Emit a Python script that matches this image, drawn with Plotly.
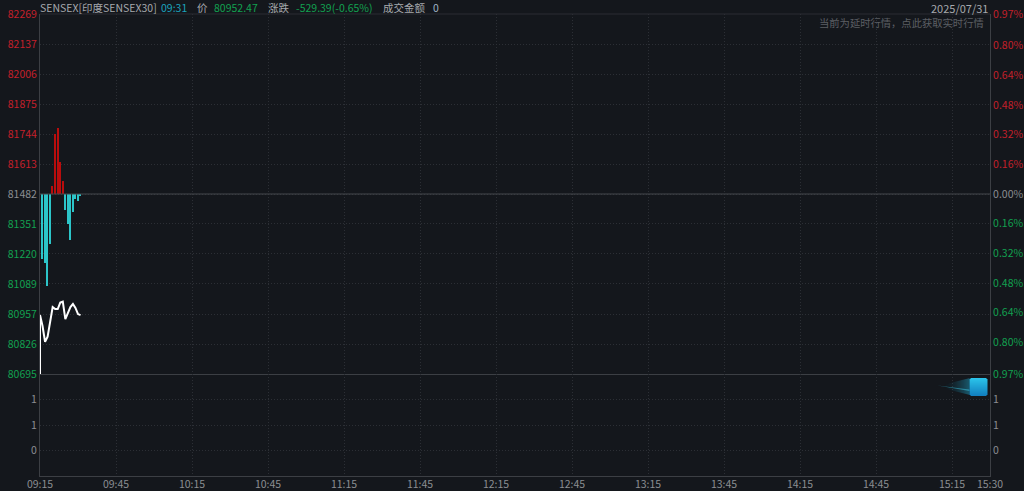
import plotly.graph_objects as go

# ---- data ----
prev_close = 81482
minute_labels = ["09:15","09:45","10:15","10:45","11:15","11:45","12:15","12:45","13:15","13:45","14:15","14:45","15:15","15:30"]
minute_ticks = [0,30,60,90,120,150,180,210,240,270,300,330,360,375]
price_minutes = [0,0,1,2,3,4,5,6,7,8,9,10,11,12,13,14,15,16]
price_values = [80695,80953,80905,80836,80858,80924,80988,80979,80979,81007,81011,80935,80963,80988,81001,80984,80957,80952.47]
bar_minutes = list(range(1,17))
bar_levels = [81198,81180,81081,81263,81517,81744,81771,81622,81539,81412,81352,81281,81405,81460,81451,81475]
volume_values = [0]*16
price_ticks = [82269,82137,82006,81875,81744,81613,81482,81351,81220,81089,80957,80826,80695]
pct_ticks = [0.97,0.80,0.64,0.48,0.32,0.16,0.00,-0.16,-0.32,-0.48,-0.64,-0.80,-0.97]
volume_ticks = [1,0.5,0]
volume_labels = ["1","1","0"]

# ---- styles ----
W, H = 1024, 491
L, R, T, B = 39.5, 990.5, 14, 476
SPLIT = 374
BG = "#14171c"
GRID = "#2c2f35"
AXIS = "#3c3f44"
RED = "#c4202b"
GREEN = "#12a150"
GREY = "#8b8e92"
FONT = "Noto Sans CJK SC"
DOT = "1px,2px"
HEAD_Y = 7.7

def col(text, color):
    return f'<span style="color:{color}">{text}</span>'

def px(x):
    return (x - L) / (R - L)

def py(y):
    return (B - y) / (B - T)

price_text = [col(v, RED if v > prev_close else GREEN if v < prev_close else GREY) for v in price_ticks]
pct_text = [col(f"{abs(v):.2f}%", RED if v > 0 else GREEN if v < 0 else GREY) for v in pct_ticks]

bar_deltas = [v - prev_close for v in bar_levels]
bar_colors = ["#b80d0d" if d > 0 else "#2cc5c9" for d in bar_deltas]

fig = go.Figure()
fig.add_trace(go.Bar(x=bar_minutes, y=bar_deltas, base=prev_close, marker=dict(color=bar_colors, line_width=0),
                     width=0.58, xaxis="x", yaxis="y", hoverinfo="skip"))
fig.add_trace(go.Scatter(x=price_minutes, y=price_values, mode="lines", line=dict(color="#ffffff", width=2),
                         xaxis="x", yaxis="y", hoverinfo="skip"))
fig.add_trace(go.Scatter(x=price_minutes, y=[(v - prev_close) / prev_close * 100 for v in price_values], mode="lines",
                         opacity=0, xaxis="x", yaxis="y2", hoverinfo="skip"))
fig.add_trace(go.Bar(x=bar_minutes, y=volume_values, marker=dict(color="#2cc5c9", line_width=0), xaxis="x2", yaxis="y3", hoverinfo="skip"))
fig.add_trace(go.Scatter(x=bar_minutes, y=volume_values, mode="lines", opacity=0, xaxis="x2", yaxis="y4", hoverinfo="skip"))

split = py(SPLIT)
common_x = dict(range=[0, 375], tickvals=minute_ticks, showgrid=True, gridcolor=GRID, griddash=DOT, gridwidth=1,
                zeroline=False, showline=True, linecolor=AXIS, linewidth=1, ticks="", fixedrange=True, automargin=False)
grid_y = dict(showgrid=True, gridcolor=GRID, griddash=DOT, gridwidth=1, zeroline=False, ticks="", fixedrange=True,
              showline=True, linecolor=AXIS, linewidth=1, automargin=False, tickfont=dict(size=10.5, family=FONT, color=GREY))

fig.update_layout(
    width=W, height=H, autosize=False,
    margin=dict(l=L, r=W - R, t=T, b=H - B, pad=0),
    paper_bgcolor=BG, plot_bgcolor=BG, showlegend=False, bargap=0, barmode="overlay",
    font=dict(family=FONT, color=GREY, size=10.5),
    xaxis=dict(domain=[0, 1], anchor="y", showticklabels=False, **common_x),
    xaxis2=dict(domain=[0, 1], anchor="y3", matches="x", ticktext=minute_labels, showticklabels=True, ticklabelstandoff=-2,
                tickfont=dict(size=10.5, family=FONT, color=GREY), **common_x),
    yaxis=dict(domain=[split, 1], anchor="x", range=[80695, 82269], tickvals=price_ticks, ticktext=price_text, **grid_y),
    yaxis2=dict(domain=[split, 1], anchor="x", overlaying="y", side="right", range=[-0.97, 0.97],
                tickvals=pct_ticks, ticktext=pct_text, **{**grid_y, "showgrid": False}),
    yaxis3=dict(domain=[0, split], anchor="x2", range=[-0.5, 1.5], tickvals=volume_ticks, ticktext=volume_labels, **grid_y),
    yaxis4=dict(domain=[0, split], anchor="x2", overlaying="y3", side="right", range=[-0.5, 1.5],
                tickvals=volume_ticks, ticktext=volume_labels, **{**grid_y, "showgrid": False}),
)

shapes = [
    dict(type="line", xref="paper", yref="y", x0=0, x1=1, y0=prev_close, y1=prev_close, line=dict(color="#45484d", width=1)),
    dict(type="line", xref="paper", yref="paper", x0=0, x1=1, y0=1, y1=1, line=dict(color="#2a2d33", width=1)),
]
# decorative icon: trail fading to the left of a rounded blue square
for i in range(30):
    x0 = 940 + i
    a = 0.5 * (i / 30) ** 2
    half = 1 + i * 0.25
    shapes.append(dict(type="rect", xref="paper", yref="paper", x0=px(x0), x1=px(x0 + 1),
                       y0=py(386.5 + half), y1=py(386.5 - half), fillcolor="#23b4dc", opacity=a, line_width=0, layer="above"))
shapes.append(dict(type="path", xref="paper", yref="paper",
                   path=f"M {px(938)} {py(385.5)} L {px(970)} {py(389.5)} L {px(970)} {py(391)} Z",
                   fillcolor="#3cc8e6", opacity=0.5, line_width=0, layer="above"))
# square drawn in steps for its blue gradient, the end rows inset to round the corners
STEPS = 18
for i in range(STEPS):
    t = i / (STEPS - 1)
    r = int(0x2b + (0x12 - 0x2b) * t)
    g = int(0xc3 + (0x80 - 0xc3) * t)
    b = int(0xea + (0xc0 - 0xea) * t)
    inset = 1 if i in (0, STEPS - 1) else 0
    yy = 378 + i
    shapes.append(dict(type="rect", xref="paper", yref="paper", x0=px(970 + inset), x1=px(988 - inset), y0=py(yy + 1), y1=py(yy),
                       fillcolor=f"rgb({r},{g},{b})", line_width=0, layer="above"))
fig.update_layout(shapes=shapes)

def note(x, y, text, color, anchor="left", size=10.5):
    fig.add_annotation(xref="paper", yref="paper", x=px(x), y=py(y), text=text, showarrow=False, xanchor=anchor,
                       yanchor="middle", align=anchor, borderpad=0, borderwidth=0,
                       font=dict(size=size, color=color, family=FONT))

note(40, HEAD_Y, "SENSEX[印度SENSEX30]", "#a6a9ad")
note(161, HEAD_Y, "09:31", "#1ba3bd")
note(196.5, HEAD_Y, "价", "#a6a9ad")
note(213.7, HEAD_Y, "80952.47", GREEN)
note(267.7, HEAD_Y, "涨跌", "#a6a9ad")
note(296, HEAD_Y, "-529.39(-0.65%)", GREEN)
note(383, HEAD_Y, "成交金额", "#a6a9ad")
note(432.7, HEAD_Y, "0", "#9fb4c4")
note(988.5, HEAD_Y, "2025/07/31", "#a6a9ad", "right", 11)
note(984.5, 22.5, "当前为延时行情，点此获取实时行情", "#5c5f64", "right", 10.3)

fig.write_html("out.html", config={"displayModeBar": False},
               post_script=f"document.body.style.margin='0';document.body.style.background='{BG}';document.body.style.overflow='hidden';")
